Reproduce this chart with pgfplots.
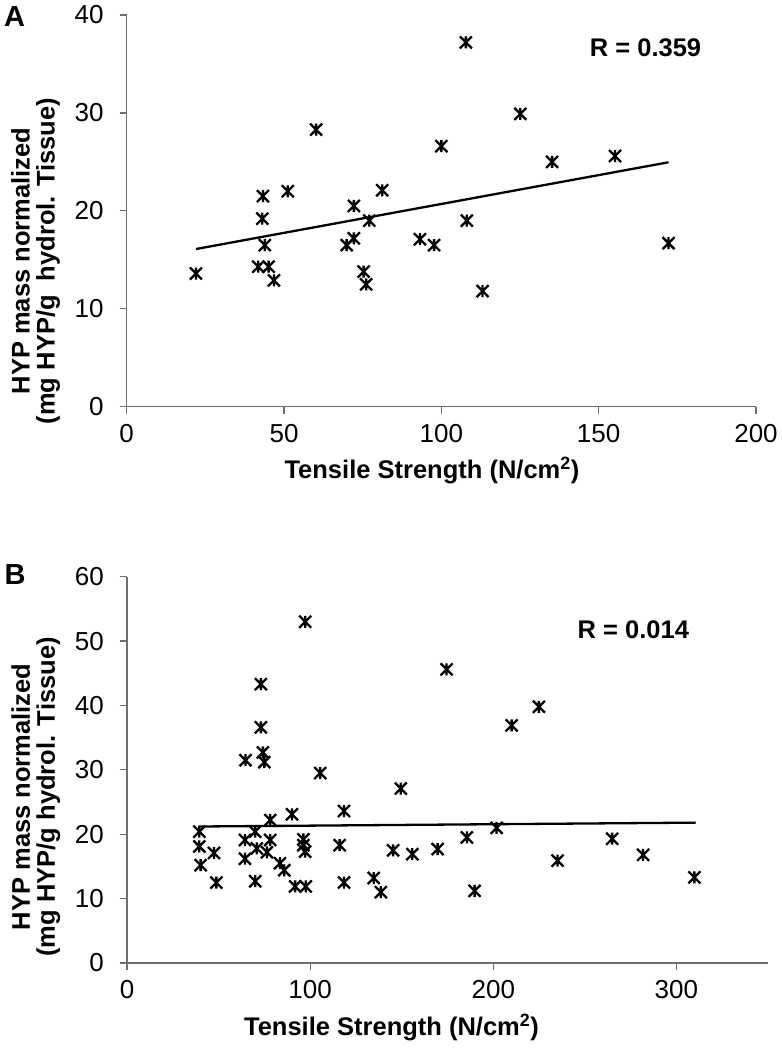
\documentclass[border=0pt]{standalone}
\usepackage{fontspec}
\setmainfont{Liberation Sans}
\usepackage{pgfplots}
\usepackage{pgfplotstable}
\pgfplotsset{compat=1.18}
\definecolor{axisgray}{HTML}{6E6E6E}

\pgfdeclareplotmark{xstar}{%
  \pgfpathmoveto{\pgfqpoint{-\pgfplotmarksize}{-\pgfplotmarksize}}%
  \pgfpathlineto{\pgfqpoint{\pgfplotmarksize}{\pgfplotmarksize}}%
  \pgfpathmoveto{\pgfqpoint{-\pgfplotmarksize}{\pgfplotmarksize}}%
  \pgfpathlineto{\pgfqpoint{\pgfplotmarksize}{-\pgfplotmarksize}}%
  \pgfpathmoveto{\pgfqpoint{0pt}{-\pgfplotmarksize}}%
  \pgfpathlineto{\pgfqpoint{0pt}{\pgfplotmarksize}}%
  \pgfusepathqstroke
}

\pgfplotstableread{
x y
22.0 13.6
60.2 28.3
100.0 26.6
43.3 21.5
51.2 22.0
81.2 22.1
72.2 20.5
43.1 19.2
77.1 19.0
43.9 16.5
72.2 17.2
69.9 16.5
93.2 17.1
97.7 16.5
41.8 14.3
45.1 14.3
46.8 12.9
75.3 13.8
76.1 12.5
107.8 37.2
125.1 29.9
135.2 25.0
155.2 25.6
108.1 19.0
172.2 16.7
113.1 11.8
}\dataA

\pgfplotstableread{
x y
97.3 53.0
73.1 43.3
73.1 36.6
74.2 32.7
64.7 31.5
75.0 31.2
105.5 29.5
90.1 23.1
118.5 23.6
78.2 22.2
39.5 20.4
70.0 20.4
64.4 19.1
78.2 19.1
96.3 19.2
39.5 18.1
70.9 17.8
96.3 18.3
97.3 17.3
116.1 18.3
47.5 17.1
76.4 17.2
64.4 16.2
83.5 15.5
40.2 15.2
85.9 14.4
48.8 12.5
70.0 12.7
91.8 11.9
97.6 11.9
118.5 12.5
134.7 13.2
138.6 11.0
145.3 17.5
149.5 27.1
174.5 45.6
210.0 36.9
224.9 39.8
155.8 16.9
169.6 17.7
185.6 19.5
201.8 21.0
189.8 11.2
235.1 15.9
264.9 19.3
281.8 16.8
309.8 13.3
}\dataB

\pgfplotsset{
  common/.style={
    scale only axis,
    axis x line=bottom, axis y line=left,
    axis line style={-, draw=axisgray, line width=1.2pt},
    tick align=outside,
    major tick length=7pt,
    tick style={draw=axisgray, line width=1.2pt},
    tick label style={font=\fontsize{26}{30}\selectfont, text=black},
    /pgf/number format/assume math mode=true,
    xticklabel style={anchor=north, inner sep=0pt, yshift=-10pt},
    yticklabel style={anchor=east, inner sep=0pt, xshift=-16pt},
    xlabel={Tensile Strength (N/cm\textsuperscript{2})},
    every axis x label/.style={anchor=center, font=\bfseries\fontsize{25.5}{28}\selectfont},
    every axis y label/.style={rotate=90, anchor=center, align=center, font=\bfseries\fontsize{25.5}{25}\selectfont},
    enlargelimits=false, clip=false,
  },
  marks/.style={only marks, mark=xstar, mark size=6pt, mark options={line width=2.3pt, draw=black}},
  trend/.style={black, line width=2.3pt, no marks},
}

\begin{document}
\begin{tikzpicture}[x=1pt,y=1pt]
\useasboundingbox (0,0) rectangle (782,1050);

\node[font=\bfseries\fontsize{29}{32}\selectfont] at (14.5,1033) {A};
\node[font=\bfseries\fontsize{29}{32}\selectfont] at (15,475) {B};

\begin{axis}[common,
  at={(126.7pt,643.3pt)}, anchor=south west,
  width=629.3pt, height=391.7pt,
  xmin=0, xmax=200, ymin=0, ymax=40,
  xtick={0,50,100,150,200}, ytick={0,10,20,30,40},
  xlabel style={at={(axis description cs:0.485,-0.1616)}},
  ylabel={HYP mass normalized\\(mg HYP/g\ \ hydrol. Tissue)},
  ylabel style={at={(axis description cs:-0.1449,0.372)}},
]
\addplot[marks] table[x=x,y=y] {\dataA};
\addplot[trend] coordinates {(22,16.1) (172.2,24.96)};
\node[font=\bfseries\fontsize{25.5}{28}\selectfont] at (axis cs:164.9,36.7) {R = 0.359};
\end{axis}

\begin{axis}[common,
  at={(127pt,87pt)}, anchor=south west,
  width=641pt, height=386.3pt,
  xmin=0, xmax=350, ymin=0, ymax=60,
  xtick={0,100,200,300}, ytick={0,10,20,30,40,50,60},
  xlabel style={at={(axis description cs:0.4126,-0.1657)}},
  ylabel={HYP mass normalized\\(mg HYP/g hydrol. Tissue)},
  ylabel style={at={(axis description cs:-0.1424,0.43)}},
]
\addplot[marks] table[x=x,y=y] {\dataB};
\addplot[trend] coordinates {(39.5,21.2) (310.5,21.8)};
\node[font=\bfseries\fontsize{25.5}{28}\selectfont] at (axis cs:276.5,51.7) {R = 0.014};
\end{axis}
\end{tikzpicture}
\end{document}
